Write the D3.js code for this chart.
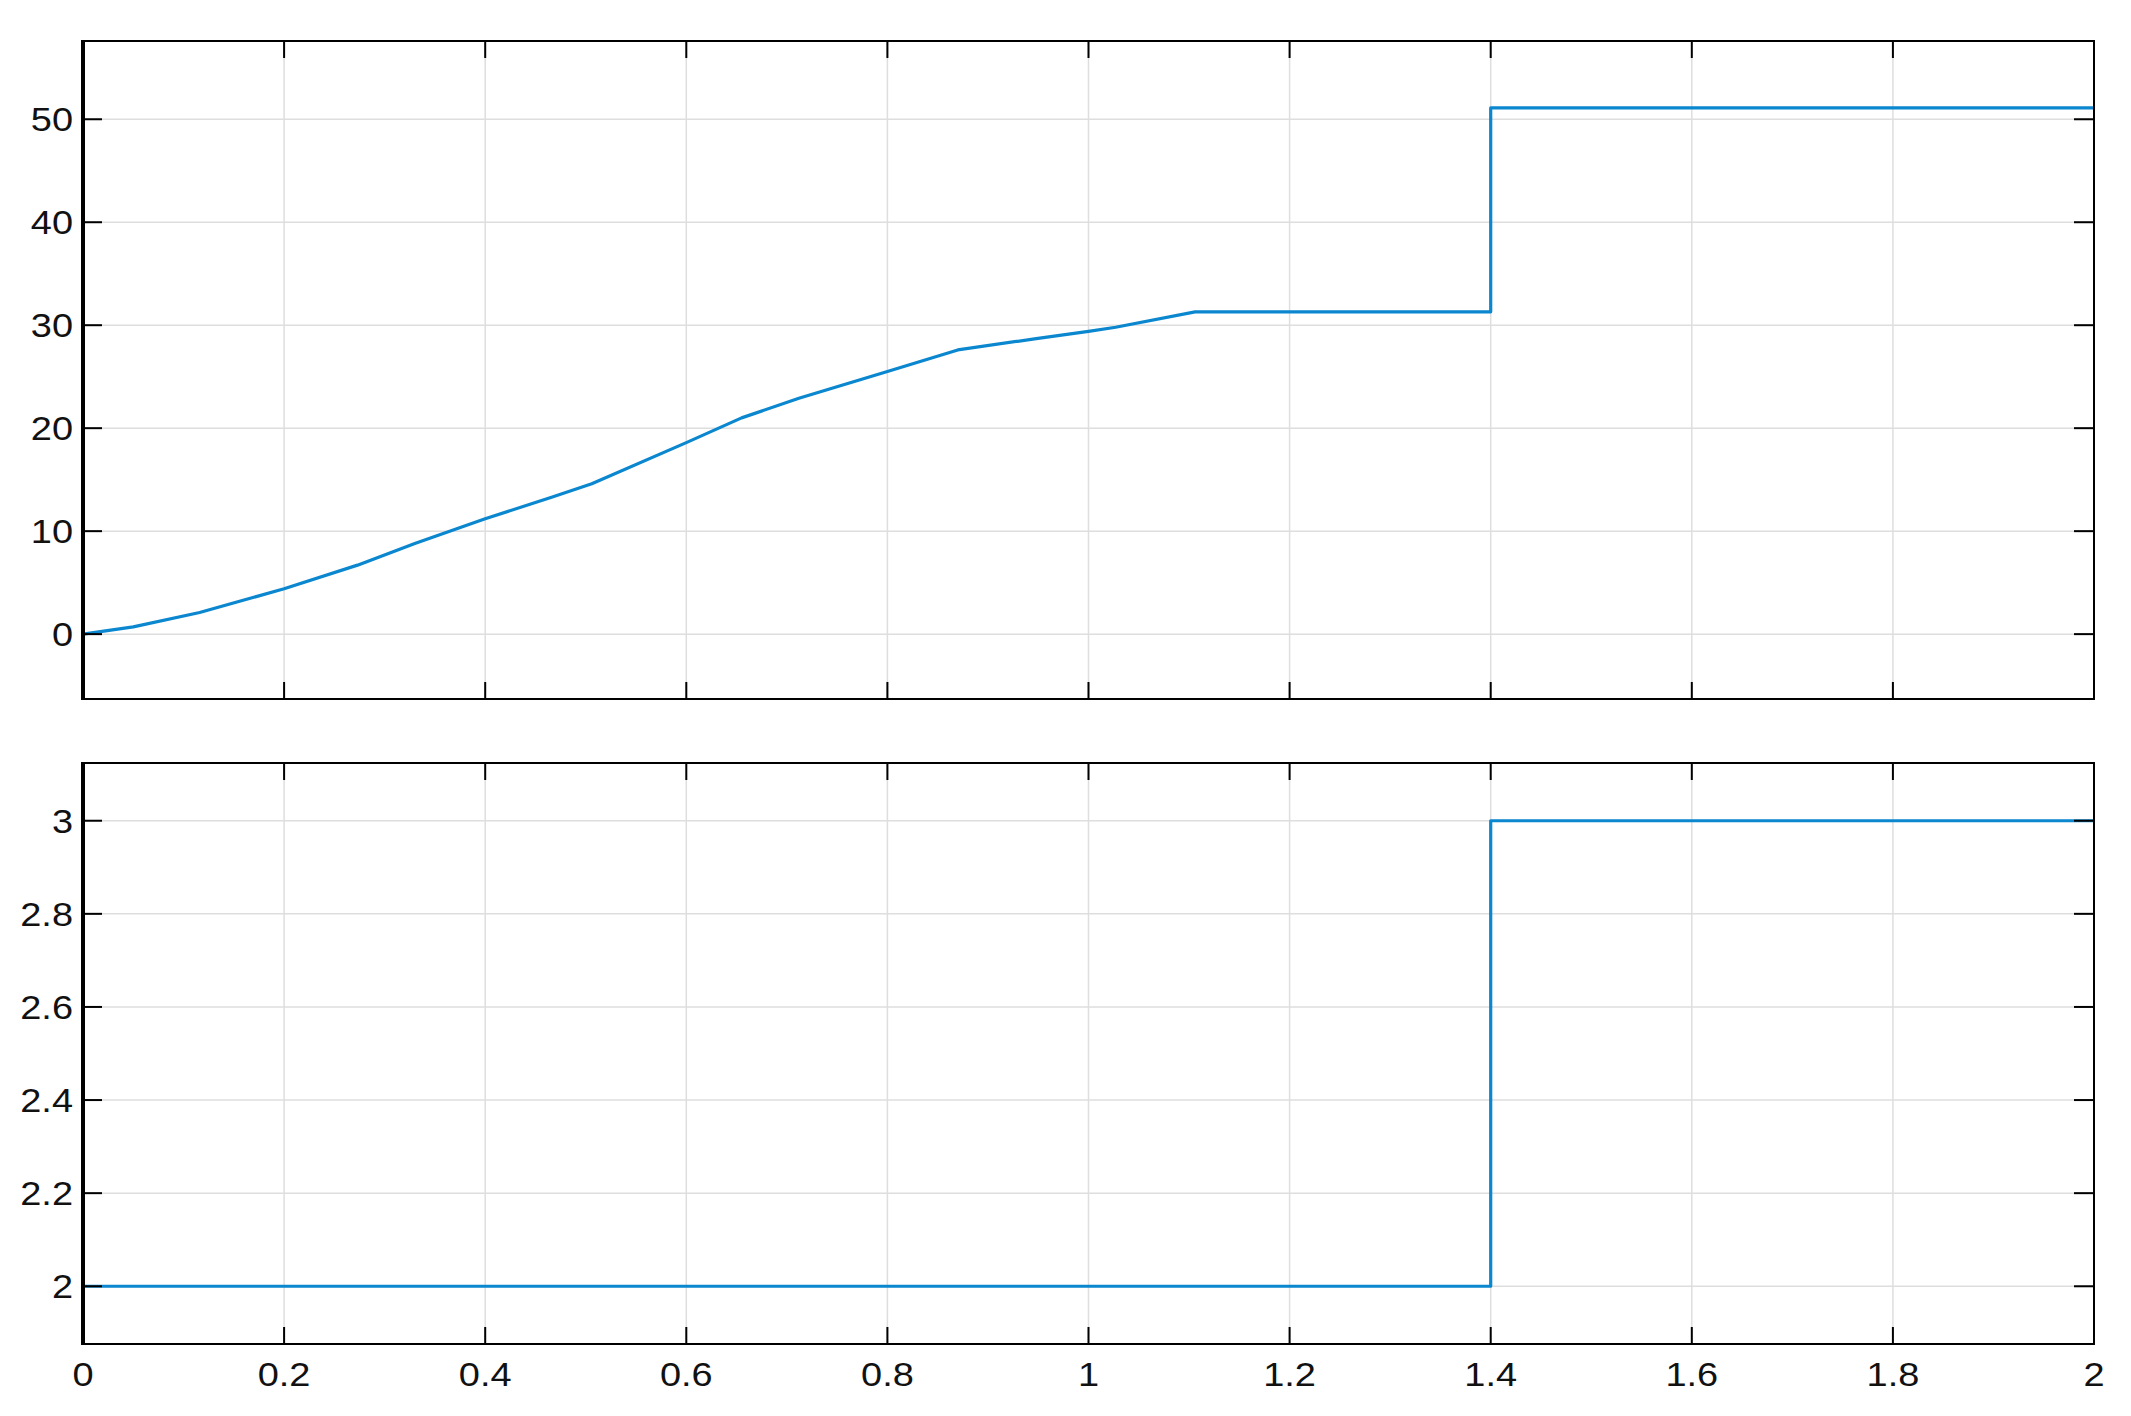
<!DOCTYPE html>
<html>
<head>
<meta charset="utf-8">
<script src="https://cdn.jsdelivr.net/npm/d3@7"></script>
<style>
  body { margin: 0; background: #fff; }
  text { font-family: "Liberation Sans", Arial, sans-serif; fill: #111; }
</style>
</head>
<body>
<svg id="chart" width="2131" height="1416"></svg>
<script>
// Time axis ticks
var xTicks = [0, 0.2, 0.4, 0.6, 0.8, 1, 1.2, 1.4, 1.6, 1.8, 2];

// Top signal
var topT = [0, 0.05, 0.116, 0.2, 0.273, 0.33, 0.4, 0.466, 0.506, 0.6, 0.655, 0.712, 0.8, 0.87, 0.948, 1.0, 1.027, 1.106, 1.4, 1.4, 2.0];
var topV = [0, 0.7, 2.1, 4.4, 6.7, 8.8, 11.2, 13.3, 14.6, 18.6, 21.0, 22.9, 25.5, 27.6, 28.7, 29.4, 29.8, 31.3, 31.3, 51.1, 51.1];
var topTicks = [0, 10, 20, 30, 40, 50];

// Bottom signal
var botT = [0, 1.4, 1.4, 2.0];
var botV = [2, 2, 3, 3];
var botTicks = [2, 2.2, 2.4, 2.6, 2.8, 3];

var svg = d3.select("#chart");

var x = d3.scaleLinear().domain([0, 2]).range([83, 2094]);

// Panel settings
var panels = [
  { t: topT, v: topV, ticks: topTicks, domain: [-6.3, 57.6], top: 41, bottom: 699, xLabels: false },
  { t: botT, v: botV, ticks: botTicks, domain: [1.876, 3.124], top: 763, bottom: 1344, xLabels: true }
];

function translate(a, b) {
  return "translate(" + a + "," + b + ")";
}

panels.forEach(function(p) {
  var y = d3.scaleLinear().domain(p.domain).range([p.bottom, p.top]);
  var g = svg.append("g");
  var x0 = x.range()[0], x1 = x.range()[1];

  // Grid
  g.selectAll("line.vgrid").data(xTicks).enter().append("line")
    .attr("x1", function(d) { return x(d); })
    .attr("x2", function(d) { return x(d); })
    .attr("y1", p.top).attr("y2", p.bottom)
    .style("stroke", "#dedede").style("stroke-width", 1.5);
  g.selectAll("line.hgrid").data(p.ticks).enter().append("line")
    .attr("x1", x0).attr("x2", x1)
    .attr("y1", function(d) { return y(d); })
    .attr("y2", function(d) { return y(d); })
    .style("stroke", "#dedede").style("stroke-width", 1.5);

  // Signal
  var line = d3.line()
    .x(function(d, i) { return x(p.t[i]); })
    .y(function(d) { return y(d); });
  g.append("path")
    .attr("d", line(p.v))
    .style("fill", "none")
    .style("stroke", "#0a87cf")
    .style("stroke-width", 3.2)
    .style("stroke-linejoin", "round");

  // Inward ticks on all four sides
  var tl = 17;
  xTicks.forEach(function(d) {
    g.append("line").attr("x1", x(d)).attr("x2", x(d)).attr("y1", p.top).attr("y2", p.top + tl)
      .style("stroke", "#000").style("stroke-width", 2);
    g.append("line").attr("x1", x(d)).attr("x2", x(d)).attr("y1", p.bottom).attr("y2", p.bottom - tl)
      .style("stroke", "#000").style("stroke-width", 2);
  });
  p.ticks.forEach(function(d) {
    g.append("line").attr("x1", x0).attr("x2", x0 + 19).attr("y1", y(d)).attr("y2", y(d))
      .style("stroke", "#000").style("stroke-width", 2);
    g.append("line").attr("x1", x1).attr("x2", x1 - 20).attr("y1", y(d)).attr("y2", y(d))
      .style("stroke", "#000").style("stroke-width", 2);
  });

  // Frame
  g.append("rect")
    .attr("x", x0).attr("y", p.top)
    .attr("width", x1 - x0).attr("height", p.bottom - p.top)
    .style("fill", "none").style("stroke", "#000").style("stroke-width", 2);
  g.append("line").attr("x1", x0).attr("x2", x0).attr("y1", p.top - 1).attr("y2", p.bottom + 1)
    .style("stroke", "#000").style("stroke-width", 4);

  // Y labels
  g.selectAll("text.ylab").data(p.ticks).enter().append("text")
    .attr("transform", function(d) { return translate(73, y(d) + 12) + " scale(1.15,1)"; })
    .attr("text-anchor", "end")
    .style("font-size", "33px")
    .text(function(d) { return d; });

  // X labels
  if (p.xLabels) {
    g.selectAll("text.xlab").data(xTicks).enter().append("text")
      .attr("transform", function(d) { return translate(x(d), 1386) + " scale(1.15,1)"; })
      .attr("text-anchor", "middle")
      .style("font-size", "33px")
      .text(function(d) { return d; });
  }
});
</script>
</body>
</html>
